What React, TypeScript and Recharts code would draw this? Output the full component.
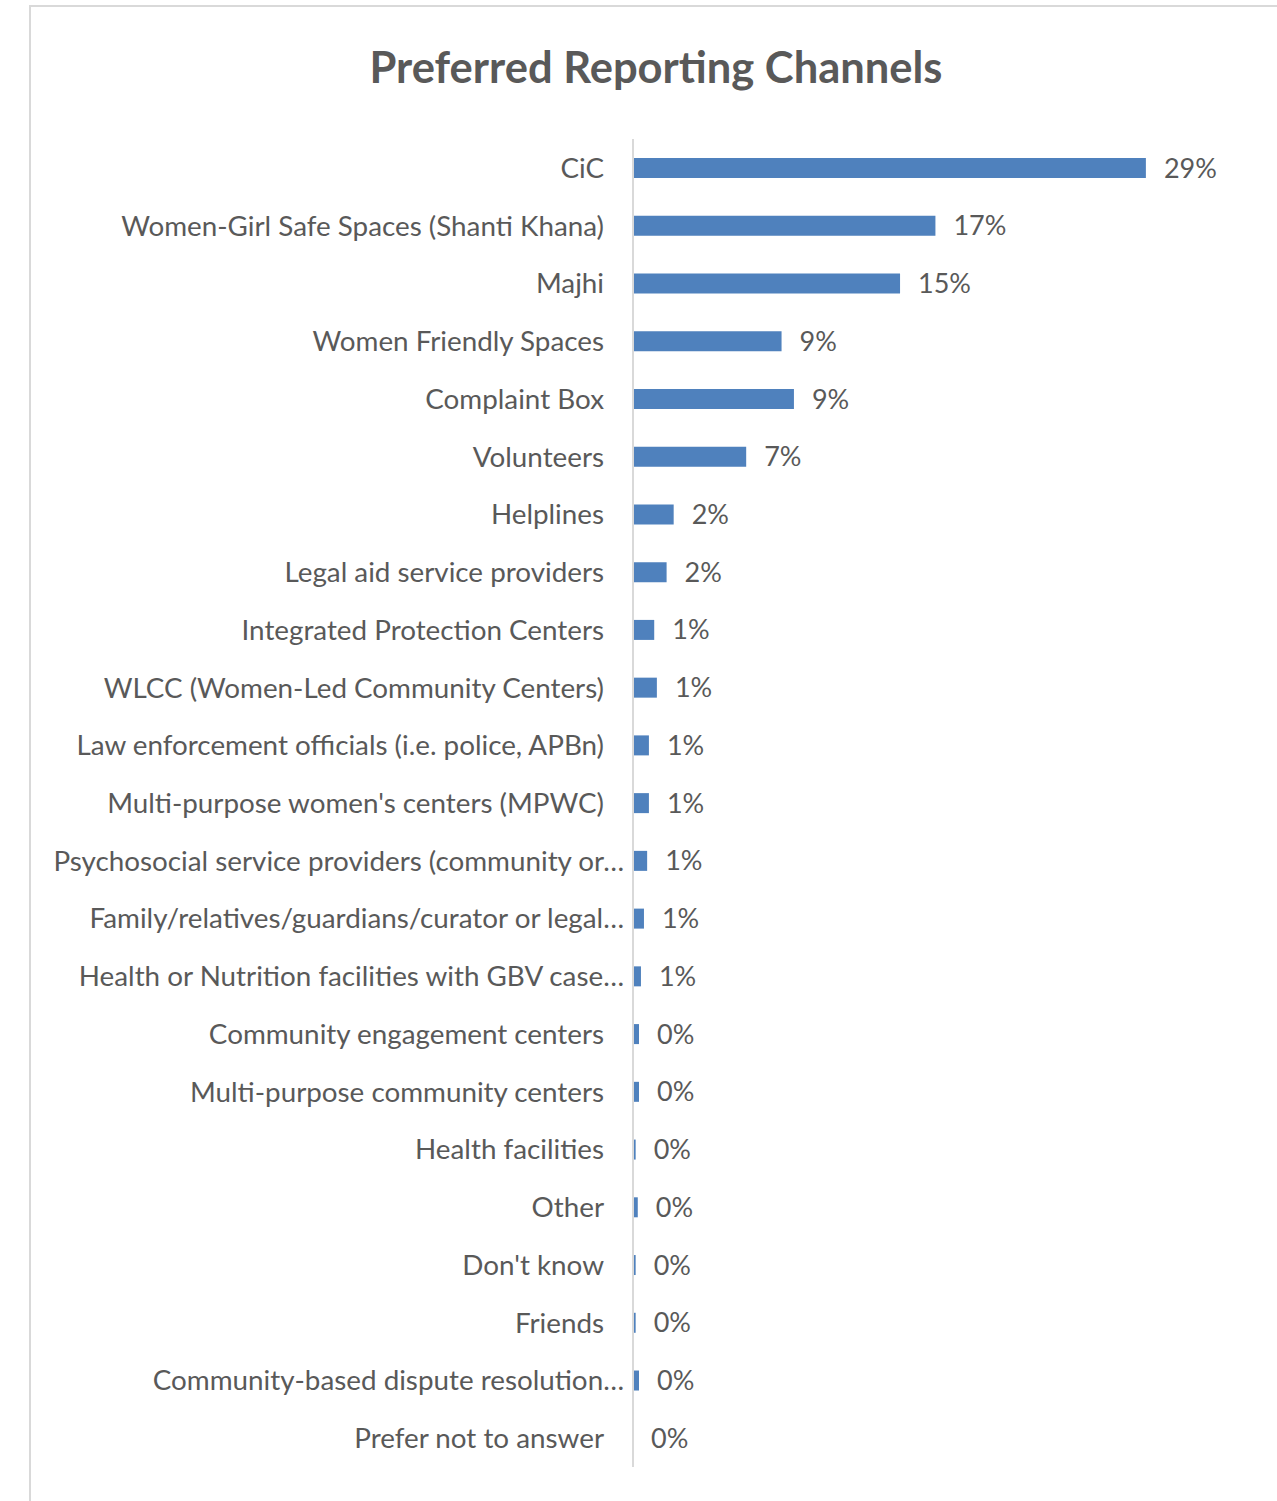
import { BarChart, Bar, XAxis, YAxis, LabelList } from 'recharts'

const categories = [
  'CiC',
  'Women-Girl Safe Spaces (Shanti Khana)',
  'Majhi',
  'Women Friendly Spaces',
  'Complaint Box',
  'Volunteers',
  'Helplines',
  'Legal aid service providers',
  'Integrated Protection Centers',
  'WLCC (Women-Led Community Centers)',
  'Law enforcement officials (i.e. police, APBn)',
  "Multi-purpose women's centers (MPWC)",
  'Psychosocial service providers (community or…',
  'Family/relatives/guardians/curator or legal…',
  'Health or Nutrition facilities with GBV case…',
  'Community engagement centers',
  'Multi-purpose community centers',
  'Health facilities',
  'Other',
  "Don't know",
  'Friends',
  'Community-based dispute resolution…',
  'Prefer not to answer',
]

// bar lengths (percent); last one is ~0
const shares = [
  29.0, 17.1, 15.1, 8.4, 9.1, 6.4, 2.3, 1.9, 1.2, 1.35, 0.9, 0.9, 0.8, 0.62, 0.45,
  0.34, 0.34, 0.15, 0.27, 0.15, 0.15, 0.34, 0.001,
]

// data labels as printed on the chart
const shareLabels = [
  '29%', '17%', '15%', '9%', '9%', '7%', '2%', '2%', '1%', '1%', '1%', '1%', '1%', '1%', '1%',
  '0%', '0%', '0%', '0%', '0%', '0%', '0%', '0%',
]

const data = categories.map((name, i) => ({ name, value: shares[i], label: shareLabels[i] }))

const FONT = 'Lato, "Open Sans", sans-serif'
const TEXT = '#595959'

function CategoryTick(props: any) {
  const { x, y, payload } = props
  const truncated = String(payload.value).endsWith('…')
  return (
    <text
      x={x + (truncated ? -1 : -21)}
      y={y}
      dy={10}
      textAnchor="end"
      fontSize={27.8}
      fontFamily={FONT}
      fill={TEXT}
    >
      {payload.value}
    </text>
  )
}

export default function App() {
  return (
    <div style={{ position: 'absolute', left: 0, top: 0, width: 1277, height: 1501, background: '#fff' }}>
      <div
        style={{
          position: 'absolute',
          left: 29,
          top: 5,
          right: 0,
          bottom: 0,
          borderLeft: '2px solid #d9d9d9',
          borderTop: '2px solid #d9d9d9',
        }}
      />
      <div
        style={{
          position: 'absolute',
          left: 31,
          width: 1250,
          top: 40,
          textAlign: 'center',
          fontFamily: FONT,
          fontWeight: 700,
          fontSize: 43.5,
          color: TEXT,
        }}
      >
        Preferred Reporting Channels
      </div>
      <div style={{ position: 'absolute', left: 0, top: 0 }}>
        <BarChart
          width={1277}
          height={1501}
          data={data}
          layout="vertical"
          margin={{ top: 139, right: 25, bottom: 34, left: 0 }}
        >
          <XAxis type="number" domain={[0, 35]} hide />
          <YAxis
            type="category"
            dataKey="name"
            width={633}
            axisLine={{ stroke: '#d9d9d9', strokeWidth: 2 }}
            tickLine={false}
            interval={0}
            tick={<CategoryTick />}
          />
          <Bar dataKey="value" fill="#4f81bd" barSize={20} isAnimationActive={false}>
            <LabelList
              dataKey="label"
              position="right"
              offset={18}
              fontSize={27}
              fontFamily={FONT}
              fill={TEXT}
            />
          </Bar>
        </BarChart>
      </div>
    </div>
  )
}
